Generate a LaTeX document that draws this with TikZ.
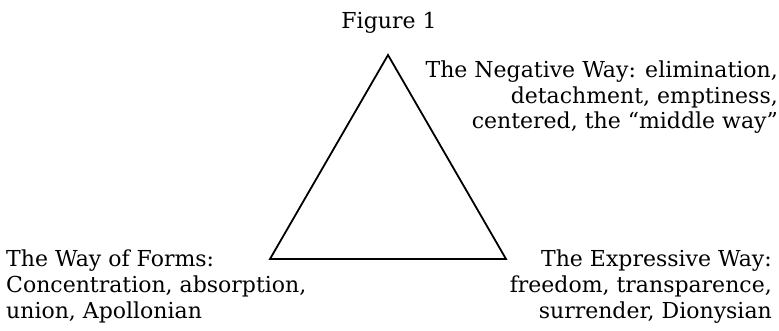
\documentclass[tikz,border=0pt]{standalone}
\usepackage{fontspec}
\setmainfont{DejaVu Serif}
\begin{document}
\begin{tikzpicture}[x=1pt,y=-1pt,
  lbl/.style={inner sep=0pt, font=\fontsize{22}{25.7}\selectfont},
  tri/.style={draw, line width=1.8pt, line join=miter}]
\useasboundingbox (0,0) rectangle (779,331);
\node[lbl, anchor=base] (title) at (389,29) {Figure 1};
\coordinate (apex) at (388,55);
\coordinate (bl) at (270,259);
\coordinate (br) at (506,259);
\draw[tri] (apex) -- (bl) -- (br) -- cycle;
\node[lbl, anchor=base east, align=right] (neg) at (778,129) {The Negative Way: elimination,\\detachment, emptiness,\\centered, the “middle way”};
\node[lbl, anchor=base west, align=left] (forms) at (6,318.3) {The Way of Forms:\\Concentration, absorption,\\union, Apollonian};
\node[lbl, anchor=base east, align=right] (expr) at (772,318.3) {The Expressive Way:\\freedom, transparence,\\surrender, Dionysian};
\end{tikzpicture}
\end{document}
